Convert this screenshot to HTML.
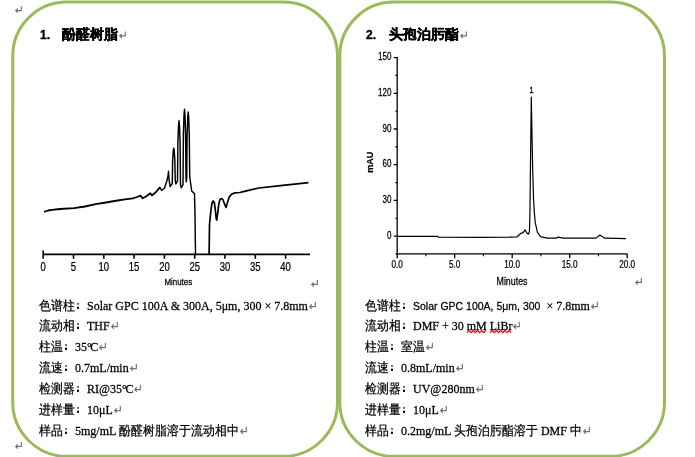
<!DOCTYPE html>
<html><head><meta charset="utf-8">
<style>
html,body{margin:0;padding:0;background:#fff;width:695px;height:457px;overflow:hidden;position:relative}
.t{position:absolute;will-change:transform;transform:scaleY(1.1);transform-origin:0 11px;-webkit-text-stroke:0.25px #000;white-space:nowrap;font-family:"Liberation Serif",serif;font-size:12px;line-height:14px;color:#000}
.h{position:absolute;will-change:transform;-webkit-text-stroke:0.35px #000;white-space:nowrap;font-family:"Liberation Sans",sans-serif;font-weight:bold;line-height:16px;color:#000}
.n{font-size:12px}
.c{font-size:14px}
.s{font-family:"Liberation Sans",sans-serif;font-size:10.5px}
svg.main{position:absolute;left:0;top:0;will-change:transform}
.ax{font-family:"Liberation Sans",sans-serif;fill:#000;stroke:#000;stroke-width:0.25}
.pm{display:inline-block;width:7px;height:8px;vertical-align:0px;margin-left:1px;-webkit-text-stroke:0}
.co{display:inline-block;position:relative;width:12px;height:10px;vertical-align:baseline}
.co::before,.co::after{content:"";position:absolute;left:2.2px;width:2px;height:1.5px;background:#000}
.co::before{top:3.6px}.co::after{top:7.0px}
.wv{text-decoration:underline wavy #e03030;text-decoration-thickness:1px;text-underline-offset:2px}
</style></head><body>
<svg class="main" width="695" height="457" viewBox="0 0 695 457">
<defs>
<g id="pm"><path d="M6.3,0 V4.4 H1 M2.8,2.3 L0.7,4.4 L2.8,6.5" fill="none" stroke="#707070" stroke-width="1.1"/></g>
</defs>
<!-- panels -->
<rect x="12.75" y="2" width="324.75" height="454.3" rx="54" ry="54" fill="none" stroke="#9bbb59" stroke-width="3"/>
<rect x="339.8" y="2" width="324.7" height="454.3" rx="54" ry="54" fill="none" stroke="#9bbb59" stroke-width="3"/>

<!-- chart 1 -->
<g stroke="#000" fill="none">
<path d="M43.2,254.4 H310" stroke-width="1.8"/>
<path d="M43.2,250.4 V258.7 M73.5,254.4 V258.7 M103.8,254.4 V258.7 M134.1,254.4 V258.7 M164.4,254.4 V258.7 M194.7,254.4 V258.7 M225,254.4 V258.7 M255.3,254.4 V258.7 M285.6,254.4 V258.7" stroke-width="1.6"/>
<path d="M44.2,211.8 L48,210.5 L52,209.9 L60,209 L74,208.1 L85,206.5 L95.6,204.2 L106,202.5 L117.5,200.5 L125,199.3 L132.8,198.3 L137,197 L140.4,195.6 L142.7,198.3 L146,196.5 L150.3,193.2 L152,195.4 L156,192 L160,187.2" stroke-width="1.8" stroke-linejoin="round"/>
<path d="M160.00,187.20 L161.60,190.50 L164.40,188.30 L166.60,181.70 L167.93,176.50 L168.50,171.30 L168.98,179.00 L170.10,186.70 L172.25,183.70 L172.65,160.63 L173.25,150.96 L173.75,148.10 L174.25,150.96 L174.85,160.63 L175.25,180.90 L175.90,183.90 L177.50,180.90 L177.90,142.88 L178.50,125.85 L179.00,120.80 L179.50,125.85 L180.10,142.88 L180.50,184.70 L181.30,187.70 L183.00,184.70 L183.40,134.64 L184.00,115.09 L184.50,109.30 L185.00,115.09 L185.60,134.64 L186.00,178.70 L186.30,181.70 L186.70,178.70 L187.10,135.62 L187.70,117.40 L188.20,112.00 L188.70,117.40 L189.30,135.62 L189.70,176.50 L190.10,179.50 L191.70,191.00 L194.50,193.80 L195.00,215.00 L195.50,254.00" stroke-width="1.45" stroke-linejoin="round"/>
<path d="M209.1,254 L209.5,224.5 L210.7,212.3 L211.9,203.4 L213.1,201 L214.3,202.6 L215.1,208.3 L216.3,218.8 L216.8,220 L217.6,213.9 L218.8,204.2 L220,199.3 L221.6,198.5 L223.2,200.2 L224.9,205 L226.1,207.4 L227.7,201.8 L229.3,196.9 L231.7,194.1 L235,192.9 L239.8,192.5 L244.4,191.4 L258.8,188 L280.4,185.6 L294.7,184.2 L308.4,182.6" stroke-width="1.7" stroke-linejoin="round"/>
</g>
<g class="ax" font-size="12" text-anchor="middle">
<text transform="translate(43.2,270.8) scale(0.79,1)">0</text>
<text transform="translate(73.5,270.8) scale(0.79,1)">5</text>
<text transform="translate(103.8,270.8) scale(0.79,1)">10</text>
<text transform="translate(134.1,270.8) scale(0.79,1)">15</text>
<text transform="translate(164.4,270.8) scale(0.79,1)">20</text>
<text transform="translate(194.7,270.8) scale(0.79,1)">25</text>
<text transform="translate(225,270.8) scale(0.79,1)">30</text>
<text transform="translate(255.3,270.8) scale(0.79,1)">35</text>
<text transform="translate(285.6,270.8) scale(0.79,1)">40</text>
<text transform="translate(178.3,284.8) scale(0.86,1)" font-size="9.2">Minutes</text>
</g>

<!-- chart 2 -->
<g stroke="#000" fill="none">
<path d="M397.2,57 V253.9 M395.5,253.9 H627.5" stroke-width="1.3"/>
<path d="M393.8,57.6 H397 M393.8,93.3 H397 M393.8,129 H397 M393.8,164.7 H397 M393.8,200.4 H397 M393.8,236.1 H397" stroke-width="1.3"/>
<path d="M395.3,75.4 H397 M395.3,111.2 H397 M395.3,146.9 H397 M395.3,182.6 H397 M395.3,218.3 H397" stroke-width="1.1"/>
<path d="M397.2,253.9 V258.3 M454.7,253.9 V258.3 M512.2,253.9 V258.3 M569.7,253.9 V258.3 M627.2,253.9 V258.3" stroke-width="1.3"/>
<path d="M425.9,253.9 V256.3 M483.4,253.9 V256.3 M540.9,253.9 V256.3 M598.4,253.9 V256.3" stroke-width="1.1"/>
<path d="M397.5,236.3 L437.5,236.3 L438.5,237.2 L480,237.4 L510,237.1 L517.1,236.8 L520.9,233.3 L523.1,232.7 L525.1,229.8 L526.6,232.7 L528.4,234.2 L529.4,232 L529.9,215 L530.3,180 L530.9,130 L531.3,97 L531.8,125 L532.7,170 L533.5,198 L534.3,212 L535.2,222.4 L537.4,232.2 L540.6,236.6 L547.2,238.2 L556,238.2 L558.1,237.1 L563.2,238.2 L596,238.1 L599.9,235 L604.8,238.2 L626,238.6" stroke-width="1.2" stroke-linejoin="round"/>
</g>
<g class="ax" font-size="10.6" text-anchor="end">
<text transform="translate(391.4,60.2) scale(0.76,1)">150</text>
<text transform="translate(391.4,95.9) scale(0.76,1)">120</text>
<text transform="translate(391.4,131.6) scale(0.76,1)">90</text>
<text transform="translate(391.4,167.3) scale(0.76,1)">60</text>
<text transform="translate(391.4,203) scale(0.76,1)">30</text>
<text transform="translate(391.4,238.7) scale(0.76,1)">0</text>
</g>
<g class="ax" font-size="10.6" text-anchor="middle">
<text transform="translate(397.2,268.2) scale(0.77,1)">0.0</text>
<text transform="translate(454.7,268.2) scale(0.77,1)">5.0</text>
<text transform="translate(512.2,268.2) scale(0.77,1)">10.0</text>
<text transform="translate(569.7,268.2) scale(0.77,1)">15.0</text>
<text transform="translate(627.2,268.2) scale(0.77,1)">20.0</text>
<text transform="translate(512,285.2) scale(0.86,1)" font-size="10.3">Minutes</text>
<text transform="translate(531.6,93.1) scale(0.82,1)" font-size="9.8">1</text>
<text transform="translate(373.2,162.2) rotate(-90)" font-size="9" font-weight="bold">mAU</text>
</g>

<!-- spell wave -->
<path d="M467.0,332.6 L469.1,330.6 L471.2,332.6 L473.3,330.6 L475.4,332.6 L477.5,330.6 L479.6,332.6 L481.7,330.6 L483.8,332.6 L485.9,330.6 M490.2,332.6 L492.3,330.6 L494.4,332.6 L496.5,330.6 L498.6,332.6 L500.7,330.6 L502.8,332.6 L504.9,330.6 L507.0,332.6 L509.1,330.6 L511.2,332.6" fill="none" stroke="#f00000" stroke-width="1.2"/>
<!-- paragraph marks -->
<use href="#pm" x="15" y="6.2"/>
<use href="#pm" x="311" y="280"/>
<use href="#pm" x="635" y="278"/>
<use href="#pm" x="15" y="442"/>
</svg>

<!-- titles -->
<div class="h" style="left:39.5px;top:26px"><span class="n">1.</span></div>
<div class="h" style="left:62px;top:26px"><span class="c">酚醛树脂</span><svg class="pm" width="7" height="8" viewBox="0 0 7 8"><use href="#pm" x="0" y="0.5"/></svg></div>
<div class="h" style="left:365.5px;top:26px"><span class="n">2.</span></div>
<div class="h" style="left:389px;top:26px"><span class="c">头孢泊肟酯</span><svg class="pm" width="7" height="8" viewBox="0 0 7 8"><use href="#pm" x="0" y="0.5"/></svg></div>

<!-- left body -->
<div class="t" style="left:38.5px;top:298.5px">色谱柱<span class="co"></span>Solar GPC 100A &amp; 300A, 5μm, 300 × 7.8mm<svg class="pm" width="7" height="8" viewBox="0 0 7 8"><use href="#pm" x="0" y="0.5"/></svg></div>
<div class="t" style="left:38.5px;top:319.3px">流动相<span class="co"></span>THF<svg class="pm" width="7" height="8" viewBox="0 0 7 8"><use href="#pm" x="0" y="0.5"/></svg></div>
<div class="t" style="left:38.5px;top:340.2px">柱温<span class="co"></span>35<span style="letter-spacing:-1.5px">°</span>C<svg class="pm" width="7" height="8" viewBox="0 0 7 8"><use href="#pm" x="0" y="0.5"/></svg></div>
<div class="t" style="left:38.5px;top:361.0px">流速<span class="co"></span>0.7mL/min<svg class="pm" width="7" height="8" viewBox="0 0 7 8"><use href="#pm" x="0" y="0.5"/></svg></div>
<div class="t" style="left:38.5px;top:381.8px">检测器<span class="co"></span>RI@35<span style="letter-spacing:-1.5px">°</span>C<svg class="pm" width="7" height="8" viewBox="0 0 7 8"><use href="#pm" x="0" y="0.5"/></svg></div>
<div class="t" style="left:38.5px;top:402.6px">进样量<span class="co"></span>10μL<svg class="pm" width="7" height="8" viewBox="0 0 7 8"><use href="#pm" x="0" y="0.5"/></svg></div>
<div class="t" style="left:38.5px;top:423.5px">样品<span class="co"></span>5mg/mL 酚醛树脂溶于流动相中<svg class="pm" width="7" height="8" viewBox="0 0 7 8"><use href="#pm" x="0" y="0.5"/></svg></div>

<!-- right body -->
<div class="t" style="left:364.5px;top:298.5px">色谱柱<span class="co"></span><span class="s">Solar GPC 100A, 5μm, 300</span>&nbsp; × 7.8mm<svg class="pm" width="7" height="8" viewBox="0 0 7 8"><use href="#pm" x="0" y="0.5"/></svg></div>
<div class="t" style="left:364.5px;top:319.3px">流动相<span class="co"></span>DMF + 30 mM LiBr<svg class="pm" width="7" height="8" viewBox="0 0 7 8"><use href="#pm" x="0" y="0.5"/></svg></div>
<div class="t" style="left:364.5px;top:340.2px">柱温<span class="co"></span>室温<svg class="pm" width="7" height="8" viewBox="0 0 7 8"><use href="#pm" x="0" y="0.5"/></svg></div>
<div class="t" style="left:364.5px;top:361.0px">流速<span class="co"></span>0.8mL/min<svg class="pm" width="7" height="8" viewBox="0 0 7 8"><use href="#pm" x="0" y="0.5"/></svg></div>
<div class="t" style="left:364.5px;top:381.8px">检测器<span class="co"></span>UV@280nm<svg class="pm" width="7" height="8" viewBox="0 0 7 8"><use href="#pm" x="0" y="0.5"/></svg></div>
<div class="t" style="left:364.5px;top:402.6px">进样量<span class="co"></span>10μL<svg class="pm" width="7" height="8" viewBox="0 0 7 8"><use href="#pm" x="0" y="0.5"/></svg></div>
<div class="t" style="left:364.5px;top:423.5px">样品<span class="co"></span>0.2mg/mL 头孢泊肟酯溶于 DMF 中<svg class="pm" width="7" height="8" viewBox="0 0 7 8"><use href="#pm" x="0" y="0.5"/></svg></div>
</body></html>
